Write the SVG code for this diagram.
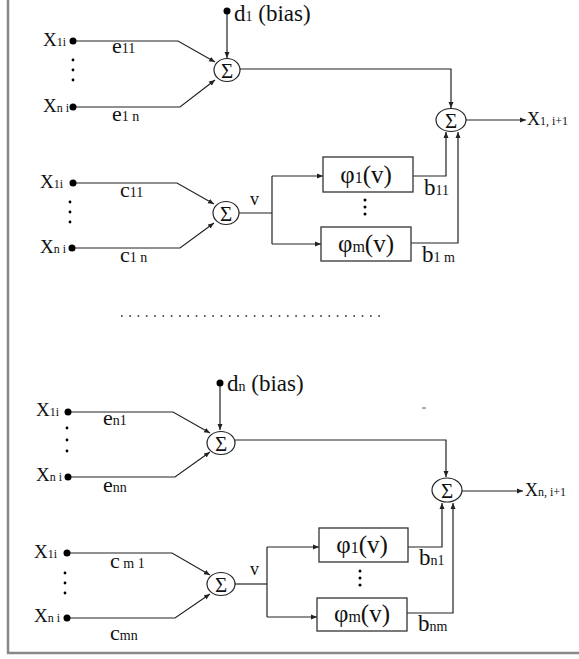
<svg xmlns="http://www.w3.org/2000/svg" width="579" height="659" viewBox="0 0 579 659">
<style>
text{font-family:'Liberation Serif','DejaVu Serif',serif;fill:#111}
.ln{fill:none;stroke:#222;stroke-width:1.2}
.sg{fill:#fff;stroke:#222;stroke-width:1.2}
.bx{fill:#fff;stroke:#333;stroke-width:1.3}
.dot{fill:#000}
</style>
<defs>
<marker id="ah" markerWidth="7" markerHeight="6" refX="6" refY="3" orient="auto" markerUnits="userSpaceOnUse">
<path d="M0,0.5 L6,3 L0,5.5 z" fill="#222"/>
</marker>
</defs>
<rect width="579" height="659" fill="#fff"/>
<g id="frame">
<line x1="8" y1="0" x2="8" y2="654" stroke="#888" stroke-width="2.5"/>
<line x1="7" y1="653" x2="579" y2="653" stroke="#888" stroke-width="2.5"/>
</g>

<g id="connectors">
<path class="ln" d="M73,41 H178 L215,62" marker-end="url(#ah)"/>
<path class="ln" d="M73,107 H180 L215,80" marker-end="url(#ah)"/>
<path class="ln" d="M227,11 V58" marker-end="url(#ah)"/>
<path class="ln" d="M240,69 H451 V108" marker-end="url(#ah)"/>
<path class="ln" d="M466,120 H526" marker-end="url(#ah)"/>
<path class="ln" d="M73,183 H177 L214,204" marker-end="url(#ah)"/>
<path class="ln" d="M72,248 H180 L214,223" marker-end="url(#ah)"/>
<path class="ln" d="M239,213 H272"/>
<path class="ln" d="M272,176 V244"/>
<path class="ln" d="M272,176 H323" marker-end="url(#ah)"/>
<path class="ln" d="M272,244 H321" marker-end="url(#ah)"/>
<path class="ln" d="M413,176 H446 V132" marker-end="url(#ah)"/>
<path class="ln" d="M411,243 H458 V132" marker-end="url(#ah)"/>
<path class="ln" d="M68,412 H173 L210,433" marker-end="url(#ah)"/>
<path class="ln" d="M68,477 H175 L210,452" marker-end="url(#ah)"/>
<path class="ln" d="M220,383 V430" marker-end="url(#ah)"/>
<path class="ln" d="M235,440 H446 V477" marker-end="url(#ah)"/>
<path class="ln" d="M462,491 H523" marker-end="url(#ah)"/>
<path class="ln" d="M67,553 H172 L210,575" marker-end="url(#ah)"/>
<path class="ln" d="M67,618 H175 L210,594" marker-end="url(#ah)"/>
<path class="ln" d="M235,584 H267"/>
<path class="ln" d="M267,547 V617"/>
<path class="ln" d="M267,547 H319" marker-end="url(#ah)"/>
<path class="ln" d="M267,617 H317" marker-end="url(#ah)"/>
<path class="ln" d="M408,547 H442 V503" marker-end="url(#ah)"/>
<path class="ln" d="M407,613 H453 V503" marker-end="url(#ah)"/>
<line x1="121" y1="316" x2="380" y2="316" stroke="#222" stroke-width="1.6" stroke-dasharray="1.6 6.7"/>
</g>

<g id="bias1">
<circle class="dot" cx="227" cy="11" r="3.5"/>
<text x="234" y="21" font-size="23">d<tspan font-size="14">1</tspan> (bias)</text>
</g>
<g id="in1e">
<circle class="dot" cx="73" cy="41" r="3.5"/>
<text x="43" y="46" font-size="19">X<tspan font-size="12">1i</tspan></text>
<circle class="dot" cx="73" cy="60" r="1.4"/><circle class="dot" cx="73" cy="70" r="1.4"/><circle class="dot" cx="73" cy="80" r="1.4"/>
<circle class="dot" cx="73" cy="107" r="3.5"/>
<text x="43" y="112" font-size="19">X<tspan font-size="12">n i</tspan></text>
<text x="112" y="53" font-size="22">e<tspan font-size="14">11</tspan></text>
<text x="112" y="121" font-size="22">e<tspan font-size="14">1 n</tspan></text>
</g>
<g id="sum1e">
<ellipse class="sg" cx="227" cy="70" rx="13" ry="11.5"/>
<text x="227" y="77.5" font-size="21" text-anchor="middle">Σ</text>
</g>
<g id="in1c">
<circle class="dot" cx="73" cy="183" r="3.5"/>
<text x="40" y="188" font-size="19">X<tspan font-size="12">1i</tspan></text>
<circle class="dot" cx="70" cy="202" r="1.4"/><circle class="dot" cx="70" cy="212" r="1.4"/><circle class="dot" cx="70" cy="222" r="1.4"/>
<circle class="dot" cx="72" cy="248" r="3.5"/>
<text x="40" y="253" font-size="19">X<tspan font-size="12">n i</tspan></text>
<text x="120" y="197" font-size="22">c<tspan font-size="14">11</tspan></text>
<text x="120" y="262" font-size="22">c<tspan font-size="14">1 n</tspan></text>
</g>
<g id="sum1c">
<ellipse class="sg" cx="226" cy="213" rx="13" ry="11.5"/>
<text x="226" y="220.5" font-size="21" text-anchor="middle">Σ</text>
<text x="250" y="205" font-size="18">v</text>
</g>
<g id="phi11">
<rect class="bx" x="323" y="157" width="90" height="35"/>
<text x="366" y="183" font-size="25" text-anchor="middle">φ<tspan font-size="16">1</tspan>(v)</text>
</g>
<circle class="dot" cx="365" cy="200" r="1.5"/><circle class="dot" cx="365" cy="207" r="1.5"/><circle class="dot" cx="365" cy="214" r="1.5"/>
<g id="phi1m">
<rect class="bx" x="321" y="227" width="90" height="34"/>
<text x="366" y="252" font-size="25" text-anchor="middle">φ<tspan font-size="16">m</tspan>(v)</text>
</g>
<text x="424" y="195" font-size="23">b<tspan font-size="14">11</tspan></text>
<text x="422" y="262" font-size="23">b<tspan font-size="14">1 m</tspan></text>
<g id="sum1out">
<ellipse class="sg" cx="451" cy="120" rx="15" ry="11.5"/>
<text x="451" y="127.5" font-size="21" text-anchor="middle">Σ</text>
</g>
<g id="out1">
<text x="527" y="125" font-size="18">X<tspan font-size="12">1, i+1</tspan></text>
</g>

<g id="bias2">
<circle class="dot" cx="220" cy="383" r="3.5"/>
<text x="227" y="391" font-size="23">d<tspan font-size="14">n</tspan> (bias)</text>
</g>
<g id="in2e">
<circle class="dot" cx="68" cy="412" r="3.5"/>
<text x="36" y="416" font-size="19">X<tspan font-size="12">1i</tspan></text>
<circle class="dot" cx="67" cy="428" r="1.4"/><circle class="dot" cx="67" cy="440" r="1.4"/><circle class="dot" cx="67" cy="451" r="1.4"/>
<circle class="dot" cx="68" cy="477" r="3.5"/>
<text x="36" y="481" font-size="19">X<tspan font-size="12">n i</tspan></text>
<text x="103" y="425" font-size="22">e<tspan font-size="14">n1</tspan></text>
<text x="103" y="492" font-size="22">e<tspan font-size="14">nn</tspan></text>
</g>
<g id="sum2e">
<ellipse class="sg" cx="221" cy="443" rx="14" ry="11.5"/>
<text x="221" y="450.5" font-size="21" text-anchor="middle">Σ</text>
</g>
<g id="in2c">
<circle class="dot" cx="67" cy="553" r="3.5"/>
<text x="34" y="558" font-size="19">X<tspan font-size="12">1i</tspan></text>
<circle class="dot" cx="65" cy="573" r="1.4"/><circle class="dot" cx="65" cy="583" r="1.4"/><circle class="dot" cx="65" cy="593" r="1.4"/>
<circle class="dot" cx="67" cy="618" r="3.5"/>
<text x="34" y="622" font-size="19">X<tspan font-size="12">n i</tspan></text>
<text x="110" y="568" font-size="22">c<tspan font-size="14"> m 1</tspan></text>
<text x="110" y="640" font-size="22">c<tspan font-size="14">mn</tspan></text>
</g>
<g id="sum2c">
<ellipse class="sg" cx="221" cy="584" rx="14" ry="11.5"/>
<text x="221" y="591.5" font-size="21" text-anchor="middle">Σ</text>
<text x="250" y="575" font-size="18">v</text>
</g>
<g id="phi21">
<rect class="bx" x="319" y="528" width="89" height="34"/>
<text x="362" y="553" font-size="25" text-anchor="middle">φ<tspan font-size="16">1</tspan>(v)</text>
</g>
<circle class="dot" cx="360" cy="571" r="1.5"/><circle class="dot" cx="360" cy="578" r="1.5"/><circle class="dot" cx="360" cy="585" r="1.5"/>
<g id="phi2m">
<rect class="bx" x="317" y="598" width="90" height="33"/>
<text x="362" y="622" font-size="25" text-anchor="middle">φ<tspan font-size="16">m</tspan>(v)</text>
</g>
<text x="419" y="565" font-size="23">b<tspan font-size="14">n1</tspan></text>
<text x="418" y="631" font-size="23">b<tspan font-size="14">nm</tspan></text>
<g id="sum2out">
<ellipse class="sg" cx="447" cy="490" rx="15" ry="12"/>
<text x="447" y="497.5" font-size="21" text-anchor="middle">Σ</text>
</g>
<g id="out2">
<text x="525" y="496" font-size="18">X<tspan font-size="12">n, i+1</tspan></text>
</g>
<line x1="422" y1="408" x2="426" y2="408" stroke="#555" stroke-width="1"/>
</svg>
